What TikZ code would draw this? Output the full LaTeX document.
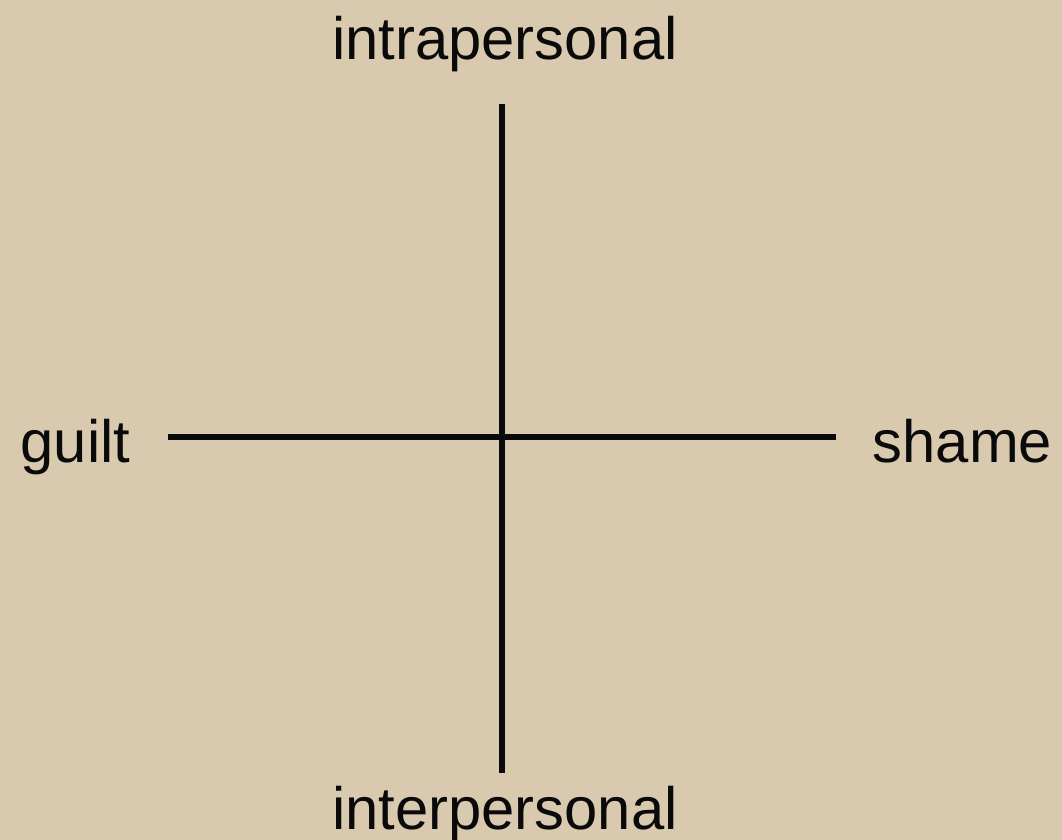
\documentclass[tikz,border=0pt]{standalone}
\usepackage{fontspec}
\setmainfont{Liberation Sans}
\usepackage{tikz}
\usetikzlibrary{positioning}
\definecolor{Paper}{HTML}{D9C9AE}
\definecolor{Ink}{HTML}{0A0A0A}

\begin{document}
\begin{tikzpicture}[font=\fontsize{17}{20}\selectfont,
    axis/.style={Ink,line width=1.8pt},
    pole/.style={Ink,inner sep=0pt}]
        \fill[Paper] (0,0) rectangle (10.62,8.40);
        \useasboundingbox (0,0) rectangle (10.62,8.40);
        \coordinate (top) at (5.02,7.36);
        \coordinate (bot) at (5.02,0.67);
        \coordinate (lft) at (1.68,4.03);
        \coordinate (rgt) at (8.36,4.03);
        \node[pole,anchor=base] (intra) at (5.05,7.80) {intrapersonal};
        \node[pole,anchor=base] (inter) at (5.05,0.10) {interpersonal};
        \node[pole,anchor=base west] (guilt) at (0.20,3.77) {guilt};
        \node[pole,anchor=base west] (shame) at (8.72,3.77) {shame};
        \draw[axis] (top)--(bot);
        \draw[axis] (lft)--(rgt);
      \end{tikzpicture}
\end{document}
